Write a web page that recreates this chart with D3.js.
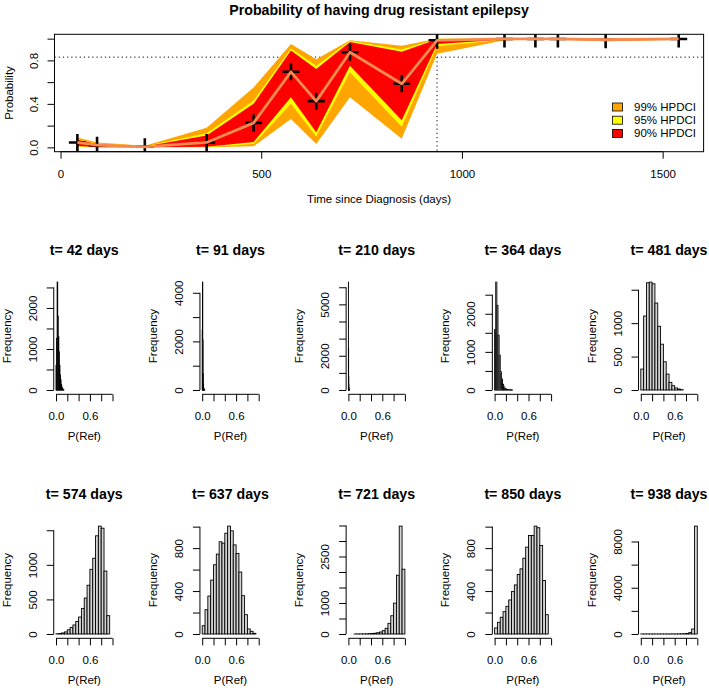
<!DOCTYPE html>
<html><head><meta charset="utf-8">
<script src="https://cdn.jsdelivr.net/npm/d3@7/dist/d3.min.js"></script>
<style>
body{margin:0;background:#fff}
text{font-family:"Liberation Sans",Arial,Helvetica,sans-serif;fill:#000}
</style>
</head><body>
<svg id="chart" width="709" height="694"></svg>
<script>
// ---------------- data: top panel ----------------
const timePoints = [42, 91, 210, 364, 481, 574, 637, 721, 850, 938, 1106, 1183, 1239, 1358, 1540];
const medianProb = [0.045, 0.02, 0.005, 0.045, 0.225, 0.695, 0.425, 0.875, 0.585, 0.985, 0.997, 0.997, 0.997, 0.99, 0.997];
const lower99 = [0.005, 0.0, 0.0, 0.0, 0.01, 0.26, 0.03, 0.46, 0.08, 0.86, 0.985, 0.99, 0.99, 0.975, 0.99];
const upper99 = [0.09, 0.045, 0.015, 0.18, 0.55, 0.95, 0.81, 0.985, 0.935, 1.0, 1.0, 1.0, 1.0, 1.0, 1.0];
const lower95 = [0.01, 0.0, 0.0, 0.002, 0.03, 0.40, 0.10, 0.69, 0.19, 0.93, 0.99, 0.995, 0.995, 0.985, 0.995];
const upper95 = [0.075, 0.035, 0.01, 0.13, 0.43, 0.91, 0.75, 0.98, 0.90, 0.998, 1.0, 1.0, 1.0, 1.0, 1.0];
const lower90 = [0.015, 0.002, 0.0, 0.005, 0.05, 0.46, 0.14, 0.75, 0.25, 0.95, 0.993, 0.997, 0.997, 0.99, 0.997];
const upper90 = [0.07, 0.03, 0.008, 0.11, 0.40, 0.89, 0.72, 0.97, 0.88, 0.995, 1.0, 1.0, 1.0, 1.0, 1.0];
const topXTicks = [0, 500, 1000, 1500];
const topYTicks = [0, 0.2, 0.4, 0.6, 0.8, 1.0];
const topYTickLabels = [0, 0.4, 0.8];
const thresholdProb = 0.83;
const thresholdTime = 938;
const legendLabels = ["99% HPDCI", "95% HPDCI", "90% HPDCI"];
const legendColors = ["#FFA500", "#FFFF00", "#FF0000"];

// ---------------- data: histograms ----------------
const histDays = [42, 91, 210, 364, 481, 574, 637, 721, 850, 938];
const histBinWidths = [0.01, 0.005, 0.002, 0.02, 0.05, 0.05, 0.05, 0.05, 0.05, 0.05];
const counts42  = [600, 1260, 2630, 1800, 1300, 930, 600, 370, 250, 130, 70, 40, 15, 5];
const counts91  = [2460, 4440, 2060, 680, 250, 80, 30, 10, 5];
const counts210 = [6300, 2400, 800, 300, 120, 50, 20, 10];
const counts364 = [1585, 2830, 2220, 1436, 914, 478, 287, 150, 80, 40, 20, 10, 6, 3, 2, 1];
const counts481 = [313, 1107, 1604, 1614, 1589, 1301, 953, 685, 422, 238, 114, 64, 30, 15, 5];
const counts574 = [3, 8, 15, 30, 60, 95, 130, 180, 245, 370, 520, 705, 935, 1095, 1420, 1560, 1530, 910, 265];
const counts637 = [77, 226, 353, 502, 645, 744, 859, 846, 939, 1005, 961, 830, 750, 577, 357, 180, 47, 25, 6];
const counts721 = [0, 0, 1, 1, 2, 4, 6, 10, 15, 25, 40, 64, 107, 182, 343, 589, 996, 1895, 3480, 2090];
const counts850 = [56, 109, 156, 208, 258, 317, 395, 457, 554, 607, 706, 809, 918, 918, 1005, 990, 824, 498, 180];
const counts938 = [2, 1, 1, 1, 1, 1, 1, 1, 2, 2, 3, 4, 6, 10, 15, 25, 50, 120, 433, 9330];
const histCounts = [counts42, counts91, counts210, counts364, counts481, counts574, counts637, counts721, counts850, counts938];
const histYTickStep = [500, 1000, 1000, 500, 500, 500, 200, 500, 200, 2000];
const histYTickMax = [2500, 4000, 6000, 2500, 1500, 1500, 1000, 3500, 1000, 8000];
const histYTickLabels = [[0,1000,2000],[0,2000,4000],[0,2000,5000],[0,1000,2000],[0,500,1000],[0,500,1000],[0,400,800],[0,1000,2500],[0,400,800],[0,4000,8000]];
const histXTicks = [0, 0.2, 0.4, 0.6, 0.8, 1.0];
const histXTickLabels = [0, 0.6];

const FS = 11.5;
const svg = d3.select("#chart");

// ================= TOP PANEL =================
const box = {l: 54.5, r: 703.6, t: 34.3, b: 151.7};
const x = d3.scaleLinear().domain([-15, 1602]).range([box.l, box.r]);
const y = d3.scaleLinear().domain([-0.04, 1.04]).range([box.b, box.t]);

svg.append("defs").append("clipPath").attr("id", "topclip")
  .append("rect").attr("x", box.l).attr("y", box.t).attr("width", box.r - box.l).attr("height", box.b - box.t);

const plot = svg.append("g").attr("clip-path", "url(#topclip)");

// dotted reference lines
plot.append("line").attr("x1", box.l).attr("x2", box.r).attr("y1", y(thresholdProb)).attr("y2", y(thresholdProb))
  .attr("stroke", "#000").attr("stroke-width", 1).attr("stroke-dasharray", "1.2,3");
plot.append("line").attr("x1", x(thresholdTime)).attr("x2", x(thresholdTime)).attr("y1", y(thresholdProb)).attr("y2", box.b)
  .attr("stroke", "#000").attr("stroke-width", 1).attr("stroke-dasharray", "1.2,3");

const idx = d3.range(timePoints.length);
const bands = [[lower99, upper99, legendColors[0]], [lower95, upper95, legendColors[1]], [lower90, upper90, legendColors[2]]];
bands.forEach(([lo, hi, col]) => {
  const area = d3.area().x(i => x(timePoints[i])).y0(i => y(lo[i])).y1(i => y(hi[i]));
  plot.append("path").attr("d", area(idx)).attr("fill", col).attr("stroke", "none");
});

// plus markers
const pl = 8.5;
plot.append("g").selectAll("path").data(idx).join("path")
  .attr("d", i => { const cx = x(timePoints[i]), cy = y(medianProb[i]);
    return `M${cx - pl},${cy}H${cx + pl}M${cx},${cy - pl}V${cy + pl}`; })
  .attr("stroke", "#000").attr("stroke-width", 2.6).attr("fill", "none");

// median line
plot.append("path").attr("d", d3.line().x(i => x(timePoints[i])).y(i => y(medianProb[i]))(idx))
  .attr("fill", "none").attr("stroke", "#F58A4E").attr("stroke-width", 2.8).attr("stroke-linejoin", "round");

// box
svg.append("rect").attr("x", box.l).attr("y", box.t).attr("width", box.r - box.l).attr("height", box.b - box.t)
  .attr("fill", "none").attr("stroke", "#000").attr("stroke-width", 1);

// axes
function styleAxis(g) { g.selectAll("line").attr("stroke", "#000"); g.select(".domain").remove(); g.selectAll("text").style("font-size", FS + "px").attr("fill", "#000"); }

const xAxisTop = svg.append("g").attr("transform", `translate(0,${box.b})`)
  .call(d3.axisBottom(x).tickValues(topXTicks).tickSize(7).tickSizeOuter(0).tickFormat(d3.format("d")));
styleAxis(xAxisTop);
xAxisTop.selectAll("text").attr("y", 0).attr("dy", 0).attr("transform", "translate(0,26)");
xAxisTop.append("line").attr("x1", x(topXTicks[0])).attr("x2", x(topXTicks[topXTicks.length - 1])).attr("stroke", "#000");

const yAxisTop = svg.append("g").attr("transform", `translate(${box.l},0)`)
  .call(d3.axisLeft(y).tickValues(topYTicks).tickSize(7).tickSizeOuter(0)
    .tickFormat(d => topYTickLabels.some(v => Math.abs(v - d) < 1e-9) ? d3.format(".1f")(d) : ""));
styleAxis(yAxisTop);
yAxisTop.selectAll("text").attr("x", 0).attr("y", -17).attr("dy", 0).attr("transform", "rotate(-90)").attr("text-anchor", "middle");
yAxisTop.append("line").attr("y1", y(topYTicks[0])).attr("y2", y(topYTicks[topYTicks.length - 1])).attr("stroke", "#000");

svg.append("text").attr("x", (box.l + box.r) / 2).attr("y", 15).attr("text-anchor", "middle")
  .style("font-size", "14.2px").style("font-weight", "bold").text("Probability of having drug resistant epilepsy");
svg.append("text").attr("x", (box.l + box.r) / 2).attr("y", 203).attr("text-anchor", "middle")
  .style("font-size", FS + "px").text("Time since Diagnosis (days)");
svg.append("text").attr("transform", `translate(13,${(box.t + box.b) / 2}) rotate(-90)`).attr("text-anchor", "middle")
  .style("font-size", FS + "px").text("Probability");

// legend
const leg = svg.append("g");
legendLabels.forEach((lab, i) => {
  const cy = 107 + i * 13.2;
  leg.append("rect").attr("x", 612.5).attr("y", cy - 4).attr("width", 10).attr("height", 8)
    .attr("fill", legendColors[i]).attr("stroke", "#000").attr("stroke-width", 0.8);
  leg.append("text").attr("x", 634).attr("y", cy + 4).style("font-size", FS + "px").text(lab);
});

// ================= HISTOGRAMS =================
histDays.forEach((day, i) => {
  const col = i % 5, row = Math.floor(i / 5);
  const left = 53.74 + col * 146.2, right = left + 61.02;
  const top = 277.8 + row * 244, bottom = 394.3 + row * 244;
  const counts = histCounts[i], bw = histBinWidths[i];
  const maxC = d3.max(counts);
  const hx = d3.scaleLinear().domain([-0.04, 1.04]).range([left, right]);
  const hy = d3.scaleLinear().domain([-0.04 * maxC, 1.04 * maxC]).range([bottom, top]);
  const g = svg.append("g");

  g.selectAll("rect").data(counts).join("rect")
    .attr("x", (c, k) => hx(k * bw)).attr("width", hx(bw) - hx(0))
    .attr("y", c => hy(c)).attr("height", c => hy(0) - hy(c))
    .attr("fill", "#D3D3D3").attr("stroke", "#000").attr("stroke-width", 0.9);

  const yt = d3.range(0, histYTickMax[i] + 1e-9, histYTickStep[i]);
  const ya = g.append("g").attr("transform", `translate(${left},0)`)
    .call(d3.axisLeft(hy).tickValues(yt).tickSize(7).tickSizeOuter(0)
      .tickFormat(d => histYTickLabels[i].includes(d) ? String(d) : ""));
  styleAxis(ya);
  ya.selectAll("text").attr("x", 0).attr("y", -17).attr("dy", 0).attr("transform", "rotate(-90)").attr("text-anchor", "middle");
  ya.append("line").attr("y1", hy(yt[0])).attr("y2", hy(yt[yt.length - 1])).attr("stroke", "#000");

  const xa = g.append("g").attr("transform", `translate(0,${bottom})`)
    .call(d3.axisBottom(hx).tickValues(histXTicks).tickSize(7).tickSizeOuter(0)
      .tickFormat(d => histXTickLabels.some(v => Math.abs(v - d) < 1e-9) ? d3.format(".1f")(d) : ""));
  styleAxis(xa);
  xa.selectAll("text").attr("y", 0).attr("dy", 0).attr("transform", "translate(0,26)");
  xa.append("line").attr("x1", hx(0)).attr("x2", hx(1)).attr("stroke", "#000");

  const cx = (left + right) / 2;
  g.append("text").attr("x", cx).attr("y", top - 23).attr("text-anchor", "middle")
    .style("font-size", "14.2px").style("font-weight", "bold").text(`t= ${day} days`);
  g.append("text").attr("x", cx).attr("y", bottom + 46).attr("text-anchor", "middle")
    .style("font-size", FS + "px").text("P(Ref)");
  g.append("text").attr("transform", `translate(${left - 43},${(top + bottom) / 2}) rotate(-90)`).attr("text-anchor", "middle")
    .style("font-size", FS + "px").text("Frequency");
});
</script>
</body></html>
